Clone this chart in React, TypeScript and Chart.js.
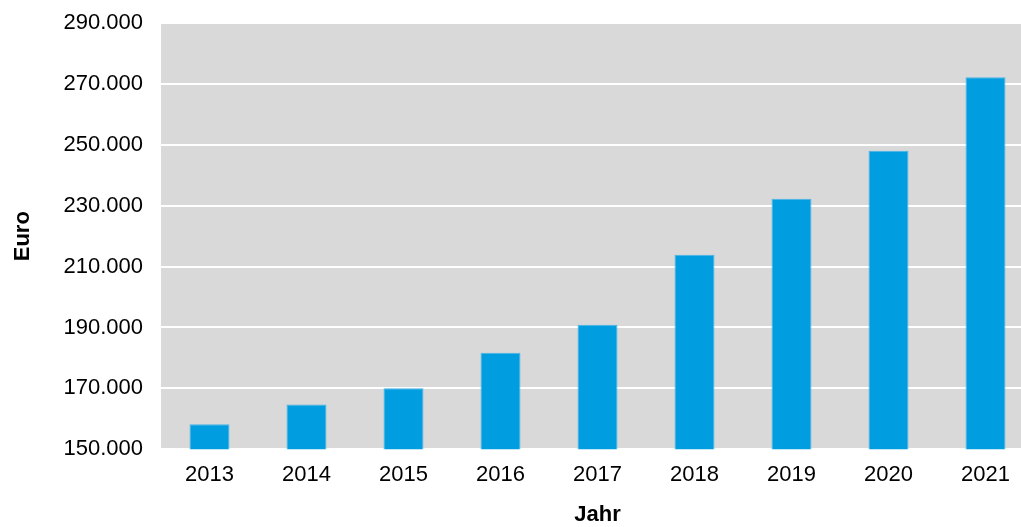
import React, { useEffect, useRef } from "react";
import { Chart, registerables } from "chart.js";

Chart.register(...registerables);

const years = ["2013", "2014", "2015", "2016", "2017", "2018", "2019", "2020", "2021"];
const euroValues = [158200, 164700, 170000, 181700, 190900, 213900, 232300, 248100, 272200];
const yMin = 150000;
const yMax = 290000;
const yStep = 20000;
const xTitle = "Jahr";
const yTitle = "Euro";

const FONT = "'Liberation Sans', Arial, Helvetica, sans-serif";

function formatDe(v: number): string {
  return String(Math.round(v)).replace(/\B(?=(\d{3})+(?!\d))/g, ".");
}

const plotBg = {
  id: "plotBg",
  beforeDraw(chart: any) {
    const { ctx, chartArea } = chart;
    if (!chartArea) return;
    ctx.save();
    ctx.fillStyle = "#d9d9d9";
    ctx.fillRect(chartArea.left, chartArea.top, chartArea.right - chartArea.left, chartArea.bottom - chartArea.top);
    ctx.restore();
  },
};

export default function App() {
  const ref = useRef<HTMLCanvasElement | null>(null);

  useEffect(() => {
    if (!ref.current) return;
    const chart = new Chart(ref.current, {
      type: "bar",
      data: {
        labels: years,
        datasets: [
          {
            data: euroValues,
            backgroundColor: "#009ee0",
            borderColor: "#45b4e8",
            borderWidth: 1,
            barPercentage: 0.412,
            categoryPercentage: 1,
          },
        ],
      },
      options: {
        animation: false,
        responsive: true,
        maintainAspectRatio: false,
        layout: { padding: { left: 6, top: 3, right: 0, bottom: 0 } },
        plugins: { legend: { display: false }, tooltip: { enabled: false } },
        scales: {
          x: {
            grid: { display: false, drawTicks: false },
            border: { display: false },
            ticks: { color: "#000", font: { family: FONT, size: 22 }, padding: 13, maxRotation: 0 },
            title: {
              display: true,
              text: xTitle,
              color: "#000",
              font: { family: FONT, size: 22, weight: "bold" },
              padding: { top: 0, bottom: 0 },
            },
          },
          y: {
            min: yMin,
            max: yMax,
            afterFit(scale: any) {
              scale.width = 155;
            },
            grid: { color: "#ffffff", lineWidth: 2, drawTicks: false },
            border: { display: false },
            ticks: {
              stepSize: yStep,
              color: "#000",
              font: { family: FONT, size: 22 },
              padding: 18,
              callback: (v: any) => formatDe(Number(v)),
            },
            title: {
              display: true,
              text: yTitle,
              color: "#000",
              font: { family: FONT, size: 22, weight: "bold" },
              padding: { top: 4, bottom: 4 },
            },
          },
        },
      },
      plugins: [plotBg],
    });
    return () => chart.destroy();
  }, []);

  return (
    <div style={{ position: "fixed", left: 0, top: 0, width: 1021, height: 527, overflow: "hidden", background: "#fff" }}>
      <div style={{ position: "absolute", left: 0, top: -8, width: 1034, height: 536 }}>
        <canvas ref={ref} />
      </div>
    </div>
  );
}
